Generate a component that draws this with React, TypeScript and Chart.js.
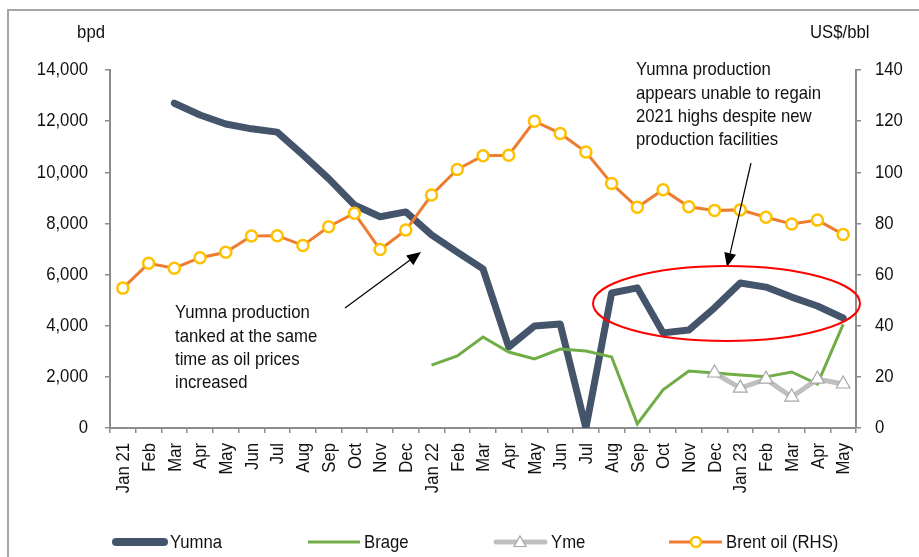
import React, { useEffect, useRef } from "react";
import { Chart, registerables } from "chart.js";

Chart.register(...registerables);

const months: string[] = [
  "Jan 21", "Feb", "Mar", "Apr", "May", "Jun", "Jul", "Aug", "Sep", "Oct", "Nov", "Dec",
  "Jan 22", "Feb", "Mar", "Apr", "May", "Jun", "Jul", "Aug", "Sep", "Oct", "Nov", "Dec",
  "Jan 23", "Feb", "Mar", "Apr", "May",
];

const yumna: (number | null)[] = [
  null, null, 12700, 12240, 11890, 11700, 11570, 10680, 9750, 8720, 8260, 8450,
  7550, 6880, 6220, 3170, 3990, 4070, 0, 5280, 5480, 3720, 3830, 4700,
  5670, 5510, 5120, 4770, 4300,
];

const brage: (number | null)[] = [
  null, null, null, null, null, null, null, null, null, null, null, null,
  2460, 2820, 3560, 2970, 2700, 3090, 3010, 2780, 160, 1490, 2230, 2150,
  2070, 2000, 2190, 1720, 4050,
];

const yme: (number | null)[] = [
  null, null, null, null, null, null, null, null, null, null, null, null,
  null, null, null, null, null, null, null, null, null, null, null, 2150,
  1560, 1910, 1210, 1910, 1720,
];

const brent: number[] = [
  54.7, 64.4, 62.5, 66.6, 68.7, 75.1, 75.2, 71.4, 78.7, 84.0, 69.8, 77.4,
  91.1, 101.1, 106.5, 106.7, 120.0, 115.2, 107.9, 95.6, 86.3, 93.2, 86.5, 85.1,
  85.3, 82.4, 79.8, 81.3, 75.7,
];

const leftTitle = "bpd";
const rightTitle = "US$/bbl";
const note1 = ["Yumna production", "tanked at the same", "time as oil prices", "increased"];
const note2 = ["Yumna production", "appears unable to regain", "2021 highs despite new", "production facilities"];

const FONT = "'Liberation Sans', Arial, sans-serif";
const FONT_PX = 19;
const SQUEEZE = 0.88;
const C_YUMNA = "#44546a";
const C_BRAGE = "#70ad47";
const C_YME = "#bfbfbf";
const C_BRENT = "#ed7d31";
const C_BRENT_PT = "#ffc000";
const C_AXIS = "#8c8c8c";
const C_TEXT = "#111111";

function narrowText(
  ctx: CanvasRenderingContext2D,
  text: string,
  x: number,
  y: number,
  align: CanvasTextAlign,
  rotate = 0
) {
  ctx.save();
  ctx.translate(x, y);
  if (rotate) ctx.rotate(rotate);
  ctx.scale(SQUEEZE, 1);
  ctx.font = `${FONT_PX}px ${FONT}`;
  ctx.fillStyle = C_TEXT;
  ctx.textAlign = align;
  ctx.textBaseline = "middle";
  ctx.fillText(text, 0, 0);
  ctx.restore();
}

function arrow(ctx: CanvasRenderingContext2D, x1: number, y1: number, x2: number, y2: number) {
  const ang = Math.atan2(y2 - y1, x2 - x1);
  const hl = 14;
  const hw = 6;
  const bx = x2 - hl * Math.cos(ang);
  const by = y2 - hl * Math.sin(ang);
  ctx.save();
  ctx.strokeStyle = "#000";
  ctx.fillStyle = "#000";
  ctx.lineWidth = 1.2;
  ctx.beginPath();
  ctx.moveTo(x1, y1);
  ctx.lineTo(bx, by);
  ctx.stroke();
  ctx.beginPath();
  ctx.moveTo(x2, y2);
  ctx.lineTo(bx + hw * Math.sin(ang), by - hw * Math.cos(ang));
  ctx.lineTo(bx - hw * Math.sin(ang), by + hw * Math.cos(ang));
  ctx.closePath();
  ctx.fill();
  ctx.restore();
}

const decorPlugin = {
  id: "decor",
  afterDraw(chart: any) {
    const ctx: CanvasRenderingContext2D = chart.ctx;
    const { x, y, y1 } = chart.scales;
    ctx.save();

    // frame
    ctx.strokeStyle = "#a6a6a6";
    ctx.lineWidth = 2;
    ctx.beginPath();
    ctx.moveTo(8, 560);
    ctx.lineTo(8, 10);
    ctx.lineTo(925, 10);
    ctx.stroke();

    // tick labels (condensed look)
    y.ticks.forEach((t: any, i: number) => {
      narrowText(ctx, String(t.label), y.right - 22, y.getPixelForTick(i), "right");
    });
    y1.ticks.forEach((t: any, i: number) => {
      narrowText(ctx, String(t.label), y1.left + 19, y1.getPixelForTick(i), "left");
    });
    x.ticks.forEach((t: any, i: number) => {
      narrowText(ctx, String(t.label), x.getPixelForTick(i) + 1, x.top + 15, "right", -Math.PI / 2);
    });

    // axis titles
    narrowText(ctx, leftTitle, 105, 33, "right");
    narrowText(ctx, rightTitle, 810, 33, "left");

    // annotations
    note1.forEach((t, i) => narrowText(ctx, t, 175, 313 + i * 23.3, "left"));
    note2.forEach((t, i) => narrowText(ctx, t, 636, 70 + i * 23.3, "left"));

    arrow(ctx, 345, 308, 421, 252);
    arrow(ctx, 751, 163, 727, 267);

    ctx.strokeStyle = "#ff0000";
    ctx.lineWidth = 2;
    ctx.beginPath();
    ctx.ellipse(726.5, 303.5, 133.5, 37.5, 0, 0, Math.PI * 2);
    ctx.stroke();

    // legend
    const ly = 542;
    ctx.lineCap = "round";
    ctx.strokeStyle = C_YUMNA;
    ctx.lineWidth = 8;
    ctx.beginPath();
    ctx.moveTo(116, ly);
    ctx.lineTo(164, ly);
    ctx.stroke();

    ctx.lineCap = "butt";
    ctx.strokeStyle = C_BRAGE;
    ctx.lineWidth = 3;
    ctx.beginPath();
    ctx.moveTo(308, ly);
    ctx.lineTo(360, ly);
    ctx.stroke();

    ctx.lineCap = "round";
    ctx.strokeStyle = C_YME;
    ctx.lineWidth = 5;
    ctx.beginPath();
    ctx.moveTo(496, ly);
    ctx.lineTo(545, ly);
    ctx.stroke();
    ctx.fillStyle = "#fff";
    ctx.strokeStyle = "#a6a6a6";
    ctx.lineWidth = 1.2;
    ctx.beginPath();
    ctx.moveTo(520, ly - 6);
    ctx.lineTo(526, ly + 4.5);
    ctx.lineTo(514, ly + 4.5);
    ctx.closePath();
    ctx.fill();
    ctx.stroke();

    ctx.lineCap = "butt";
    ctx.strokeStyle = C_BRENT;
    ctx.lineWidth = 3;
    ctx.beginPath();
    ctx.moveTo(669, ly);
    ctx.lineTo(722, ly);
    ctx.stroke();
    ctx.fillStyle = "#fff";
    ctx.strokeStyle = C_BRENT_PT;
    ctx.lineWidth = 2.5;
    ctx.beginPath();
    ctx.arc(696, ly, 5, 0, Math.PI * 2);
    ctx.fill();
    ctx.stroke();

    narrowText(ctx, "Yumna", 170, ly + 1, "left");
    narrowText(ctx, "Brage", 364, ly + 1, "left");
    narrowText(ctx, "Yme", 551, ly + 1, "left");
    narrowText(ctx, "Brent oil (RHS)", 726, ly + 1, "left");
    ctx.restore();
  },
};

export default function App() {
  const ref = useRef<HTMLCanvasElement | null>(null);
  useEffect(() => {
    if (!ref.current) return;
    const tickFont = { family: FONT, size: FONT_PX };
    const hidden = "rgba(0,0,0,0)";
    const gridOpts = {
      display: true,
      drawOnChartArea: false,
      drawTicks: true,
      tickLength: 5,
      color: C_AXIS,
      lineWidth: 1.5,
    };
    const chart = new Chart(ref.current, {
      type: "line",
      data: {
        labels: months,
        datasets: [
          {
            label: "Yumna",
            data: yumna,
            yAxisID: "y",
            borderColor: C_YUMNA,
            backgroundColor: C_YUMNA,
            borderWidth: 7,
            pointRadius: 0,
            borderJoinStyle: "round",
            borderCapStyle: "round",
            order: 4,
          },
          {
            label: "Brage",
            data: brage,
            yAxisID: "y",
            borderColor: C_BRAGE,
            backgroundColor: C_BRAGE,
            borderWidth: 3,
            pointRadius: 0,
            order: 3,
          },
          {
            label: "Yme",
            data: yme,
            yAxisID: "y",
            borderColor: C_YME,
            backgroundColor: "#ffffff",
            borderWidth: 5,
            pointStyle: "triangle",
            pointRadius: 8,
            pointBorderColor: "#a6a6a6",
            pointBackgroundColor: "#ffffff",
            pointBorderWidth: 1.2,
            order: 2,
          },
          {
            label: "Brent oil (RHS)",
            data: brent,
            yAxisID: "y1",
            borderColor: C_BRENT,
            backgroundColor: "#ffffff",
            borderWidth: 3,
            pointStyle: "circle",
            pointRadius: 5.5,
            pointBorderColor: C_BRENT_PT,
            pointBackgroundColor: "#ffffff",
            pointBorderWidth: 2.5,
            order: 1,
          },
        ],
      },
      options: {
        responsive: false,
        animation: false,
        events: [],
        layout: { padding: { top: 70, left: 0, right: 0, bottom: 0 } },
        plugins: {
          legend: { display: false },
          tooltip: { enabled: false },
          title: { display: false },
        },
        scales: {
          x: {
            type: "category",
            offset: true,
            grid: { ...gridOpts, offset: true },
            border: { display: true, color: C_AXIS, width: 2 },
            ticks: {
              autoSkip: false,
              minRotation: 90,
              maxRotation: 90,
              padding: 6,
              color: hidden,
              font: tickFont,
            },
            afterFit: (s: any) => {
              s.height = 129;
            },
          },
          y: {
            position: "left",
            min: 0,
            max: 14000,
            grid: gridOpts,
            border: { display: true, color: C_AXIS, width: 2 },
            ticks: {
              stepSize: 2000,
              padding: 17,
              color: hidden,
              font: tickFont,
              callback: (v: any) => Number(v).toLocaleString("en-US"),
            },
            afterFit: (s: any) => {
              s.width = 110;
            },
          },
          y1: {
            position: "right",
            min: 0,
            max: 140,
            grid: gridOpts,
            border: { display: true, color: C_AXIS, width: 2 },
            ticks: {
              stepSize: 20,
              padding: 14,
              color: hidden,
              font: tickFont,
            },
            afterFit: (s: any) => {
              s.width = 63;
            },
          },
        },
      } as any,
      plugins: [decorPlugin],
    });
    return () => chart.destroy();
  }, []);

  return (
    <div style={{ position: "absolute", left: 0, top: 0, width: 919, height: 557, background: "#fff" }}>
      <canvas ref={ref} width={919} height={557} style={{ display: "block", width: 919, height: 557 }} />
    </div>
  );
}
